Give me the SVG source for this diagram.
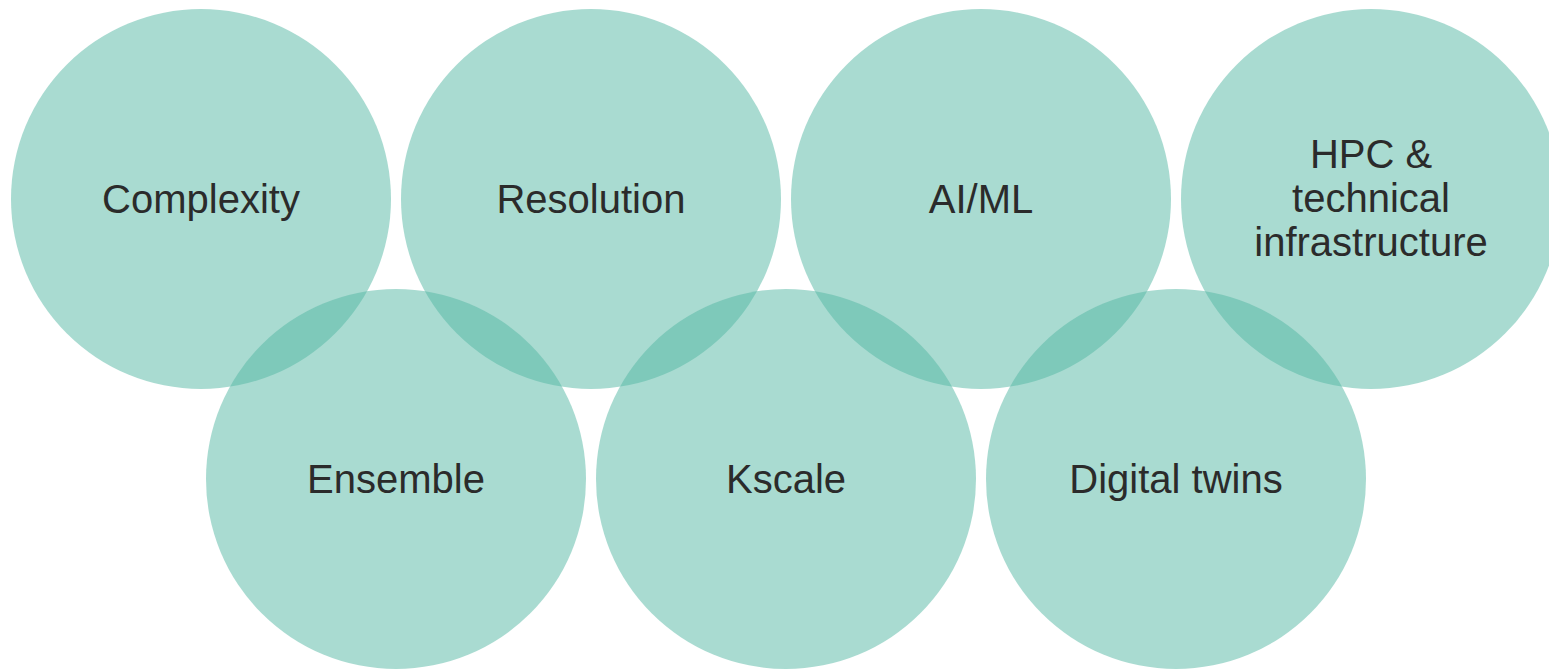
<svg xmlns="http://www.w3.org/2000/svg" width="1549" height="669" viewBox="0 0 1549 669">
<style>
.c{fill:#53b7a3;fill-opacity:0.5}
.t{font-family:"Liberation Sans",Arial,sans-serif;font-size:40px;fill:#2b2b2b;text-anchor:middle}
</style>
<rect width="1549" height="669" fill="#ffffff"/>
<g id="complexity"><circle class="c" cx="201" cy="199" r="190"/><text class="t" x="201" y="213">Complexity</text></g>
<g id="resolution"><circle class="c" cx="591" cy="199" r="190"/><text class="t" x="591" y="213">Resolution</text></g>
<g id="aiml"><circle class="c" cx="981" cy="199" r="190"/><text class="t" x="981" y="213">AI/ML</text></g>
<g id="hpc"><circle class="c" cx="1371" cy="199" r="190"/><text class="t" x="1371"><tspan x="1371" y="168">HPC &amp;</tspan><tspan x="1371" y="212">technical</tspan><tspan x="1371" y="256">infrastructure</tspan></text></g>
<g id="ensemble"><circle class="c" cx="396" cy="479" r="190"/><text class="t" x="396" y="493">Ensemble</text></g>
<g id="kscale"><circle class="c" cx="786" cy="479" r="190"/><text class="t" x="786" y="493">Kscale</text></g>
<g id="digitaltwins"><circle class="c" cx="1176" cy="479" r="190"/><text class="t" x="1176" y="493">Digital twins</text></g>
<g id="connectors"></g>
</svg>
